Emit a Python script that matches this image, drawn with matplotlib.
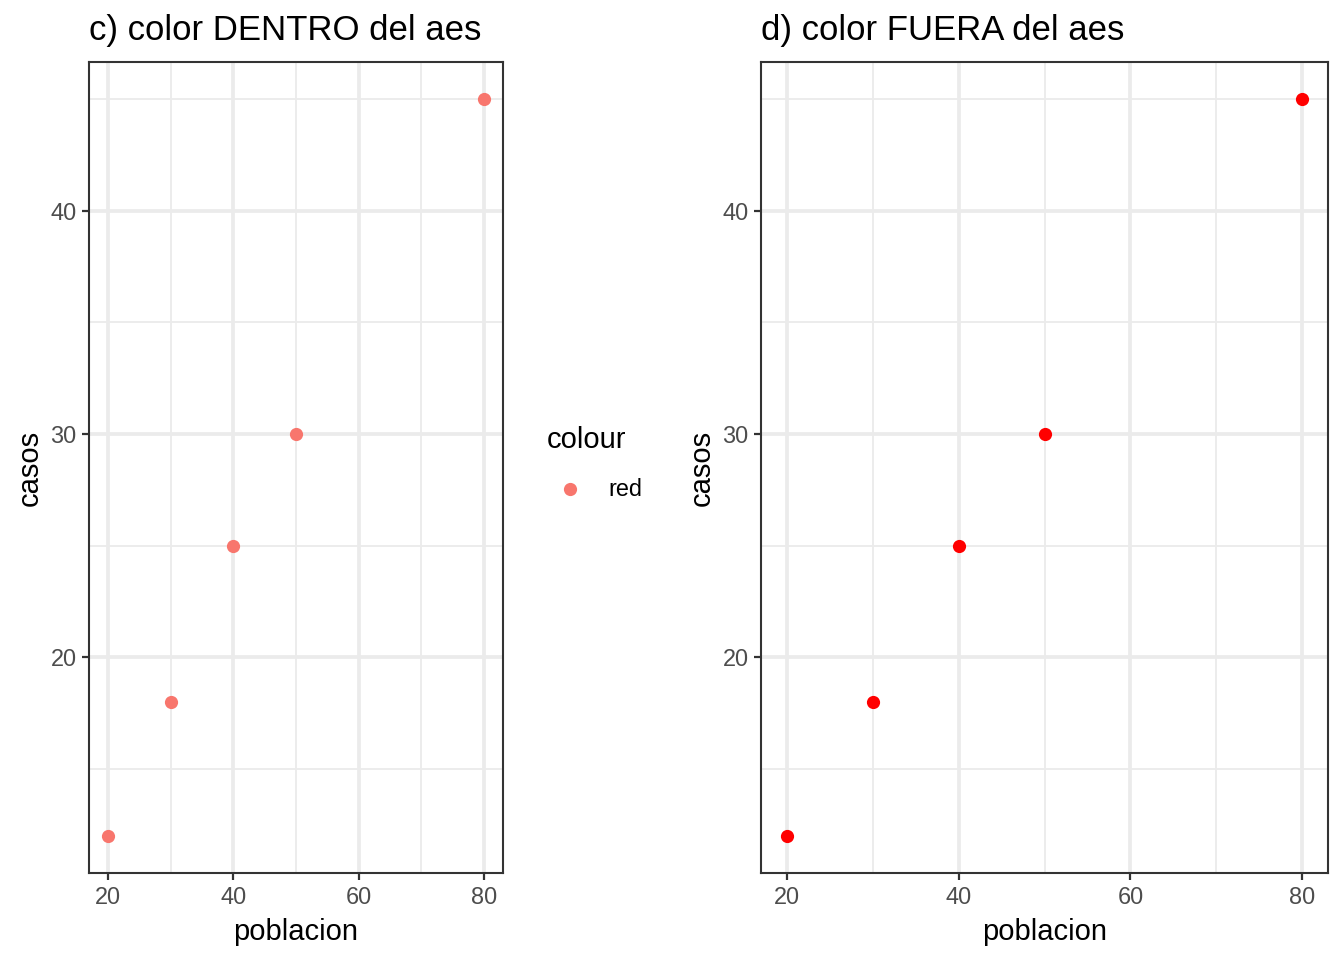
import matplotlib
matplotlib.use("Agg")
import matplotlib.pyplot as plt
from matplotlib.lines import Line2D

plt.rcParams['font.family'] = ['Liberation Sans', 'DejaVu Sans']

poblacion = [20, 30, 40, 50, 80]
casos = [12, 18, 25, 30, 45]
x_ticks = [20, 40, 60, 80]
x_minor = [30, 50, 70]
y_ticks = [20, 30, 40]
y_minor = [15, 25, 35, 45]
titles = ["c) color DENTRO del aes", "d) color FUERA del aes"]
colores = ["#F8766D", "#FF0000"]
legend_title = "colour"
legend_label = "red"

W, H = 1344, 960
fig = plt.figure(figsize=(W / 100, H / 100), dpi=100)

def frac(x0, y0, x1, y1):
    return [x0 / W, 1 - y1 / H, (x1 - x0) / W, (y1 - y0) / H]

boxes = [frac(89, 62, 503, 873), frac(761, 62, 1328, 873)]

for box, title, col in zip(boxes, titles, colores):
    ax = fig.add_axes(box)
    ax.set_xlim(17, 83)
    ax.set_ylim(10.35, 46.65)
    ax.set_xticks(x_ticks)
    ax.set_xticks(x_minor, minor=True)
    ax.set_yticks(y_ticks)
    ax.set_yticks(y_minor, minor=True)
    ax.grid(which='major', color='#EBEBEB', linewidth=2.7)
    ax.grid(which='minor', color='#EBEBEB', linewidth=1.35)
    ax.set_axisbelow(True)
    ax.tick_params(which='major', length=5, width=1.6, color='#333333',
                   labelsize=16.9, labelcolor='#4D4D4D', pad=4)
    ax.tick_params(which='minor', length=0)
    for s in ax.spines.values():
        s.set_color('#333333')
        s.set_linewidth(1.5)
    ax.plot(poblacion, casos, 'o', color=col, markersize=9.5, markeredgewidth=0,
            clip_on=False, zorder=3)
    ax.set_xlabel("poblacion", fontsize=21, labelpad=7)
    ax.set_ylabel("casos", fontsize=21, labelpad=5)
    ax.set_title(title, loc='left', fontsize=25, pad=16)

# legend of panel c
fig.text(547 / W, 1 - 440 / H, legend_title, fontsize=21, va='center', ha='left')
fig.add_artist(Line2D([570 / W], [1 - 489 / H], marker='o', color=colores[0],
                      markersize=9.5, markeredgewidth=0, linestyle='none',
                      transform=fig.transFigure))
fig.text(608 / W, 1 - 490 / H, legend_label, fontsize=16.9, va='center', ha='left')

fig.savefig("out.png", dpi=100)
